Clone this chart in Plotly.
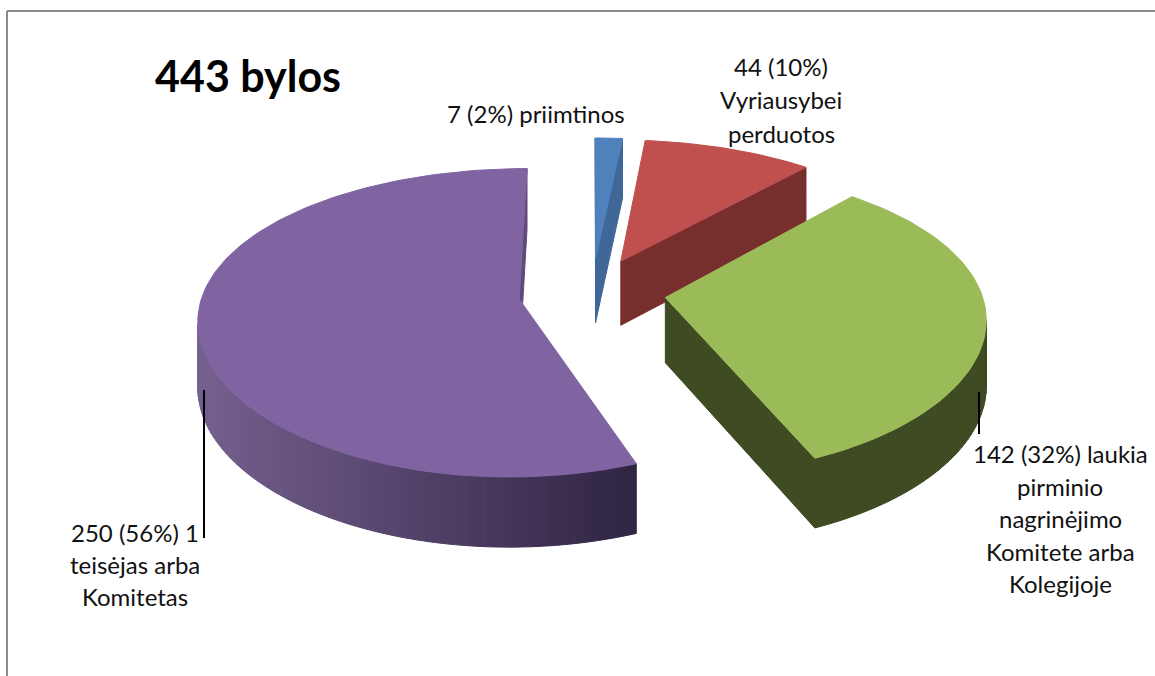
import numpy as np
import plotly.graph_objects as go

# --- data ---
categories = ["priimtinos", "Vyriausybei perduotos", "laukia pirminio nagrinėjimo", "1 teisėjas arba Komitetas"]
values = [7, 44, 142, 250]
top_colors = ["#4f81bd", "#c0504d", "#9bbb59", "#8064a2"]
cut_colors = ["#3f6797", "#772f2d", "#3f4b23", "#5f4a7c"]
wall_left = ["#3f6797", "#772f2d", "#3f4b23", "#75608f"]
wall_right = ["#3f6797", "#772f2d", "#3f4b23", "#2f2442"]

title_text = "443 bylos"
label_lines = [
    ["7 (2%) priimtinos"],
    ["44 (10%)", "Vyriausybei", "perduotos"],
    ["142 (32%) laukia", "pirminio", "nagrinėjimo", "Komitete arba", "Kolegijoje"],
    ["250 (56%) 1", "teisėjas arba", "Komitetas"],
]
label_anchor = [(536, [113]), (781, [66, 99, 133]),
                (1060, [453, 486, 518, 551, 583]), (135, [532, 564, 596])]

# --- view of the tilted, exploded pie ---
CX, CY, A, C, KX, KY, KZ, H, EXPLODE = 592.0, 292.0, 316.0, 148.4, 0.12, 0.153, 0.07, 65.0, 0.234
START_TRIM = [0.0, 0.0, 0.0, np.radians(2.5)]
total = sum(values)


def project(u, v, z=0.0):
    return CX + A * u / (1 + KX * v), CY - C * v / (1 + KY * v) + H * z / (1 + KZ * v)


def poly(fig, pts, color):
    xs = [p[0] for p in pts] + [pts[0][0]]
    ys = [p[1] for p in pts] + [pts[0][1]]
    fig.add_trace(go.Scatter(x=xs, y=ys, mode="lines", fill="toself", fillcolor=color,
                             line=dict(color=color, width=1), hoverinfo="skip", showlegend=False))


def area(pts):
    a = 0.0
    for i in range(len(pts)):
        x0, y0 = pts[i]
        x1, y1 = pts[(i + 1) % len(pts)]
        a += x0 * y1 - x1 * y0
    return a / 2


def mix(c0, c1, t):
    a = [int(c0[i:i + 2], 16) for i in (1, 3, 5)]
    b = [int(c1[i:i + 2], 16) for i in (1, 3, 5)]
    return "rgb(%d,%d,%d)" % tuple(round(a[i] + (b[i] - a[i]) * t) for i in range(3))


fig = go.Figure()
cum = np.cumsum([0] + values) / total * 2 * np.pi
for i in [0, 1, 3, 2]:
    t0, t1 = cum[i], cum[i + 1]
    mid = (t0 + t1) / 2
    ou, ov = EXPLODE * np.sin(mid), EXPLODE * np.cos(mid)
    thetas = np.linspace(t0 + START_TRIM[i], t1, max(8, int((t1 - t0) * 40)))
    rim = [(ou + np.sin(t), ov + np.cos(t)) for t in thetas]

    # radial cut faces, only those turned to the viewer
    for end, sign in ((rim[0], 1), (rim[-1], -1)):
        q = [project(ou, ov), project(*end), project(*end, 1), project(ou, ov, 1)]
        if area(q) * sign < 0:
            poly(fig, q, cut_colors[i])

    # outer wall, a strip of shaded quads
    xs_vis = [project(*r)[0] for r in rim]
    xmin, xmax = min(xs_vis), max(xs_vis)
    for a_, b_ in zip(rim[:-1], rim[1:]):
        q = [project(*a_), project(*b_), project(*b_, 1), project(*a_, 1)]
        if area(q) < 0:
            tt = ((q[0][0] + q[1][0]) / 2 - xmin) / max(xmax - xmin, 1)
            poly(fig, q, mix(wall_left[i], wall_right[i], tt))

    # top face
    poly(fig, [project(ou, ov)] + [project(*r) for r in rim], top_colors[i])

# --- text ---
ann = [dict(x=153, y=75, text=title_text, xanchor="left", yanchor="middle", showarrow=False,
            font=dict(family="Lato, Open Sans, sans-serif", size=43, color="#000000", weight="bold"))]
for lines, (cx, ys) in zip(label_lines, label_anchor):
    for line, y in zip(lines, ys):
        ann.append(dict(x=cx, y=y, text=line, xanchor="center", yanchor="middle", showarrow=False,
                        font=dict(family="Lato, Open Sans, sans-serif", size=24, color="#111111")))

line_k = dict(type="line", line=dict(color="#000000", width=2))
border = dict(type="line", line=dict(color="#8c8c8c", width=2))
shapes = [
    dict(x0=7, x1=1155, y0=11, y1=11, **border),
    dict(x0=7, x1=7, y0=11, y1=676, **border),
    dict(x0=204, x1=204, y0=390, y1=538, **line_k),
    dict(x0=979, x1=979, y0=392, y1=434, **line_k),
]

fig.update_layout(
    width=1155, height=676, margin=dict(l=0, r=0, t=0, b=0),
    paper_bgcolor="#ffffff", plot_bgcolor="#ffffff", showlegend=False,
    xaxis=dict(range=[0, 1155], visible=False, fixedrange=True),
    yaxis=dict(range=[676, 0], visible=False, fixedrange=True),
    annotations=ann, shapes=shapes,
)
fig.write_html("out.html", config={"displayModeBar": False},
               default_width="1155px", default_height="676px",
               post_script="document.body.style.margin='0';document.body.style.overflow='hidden';")
